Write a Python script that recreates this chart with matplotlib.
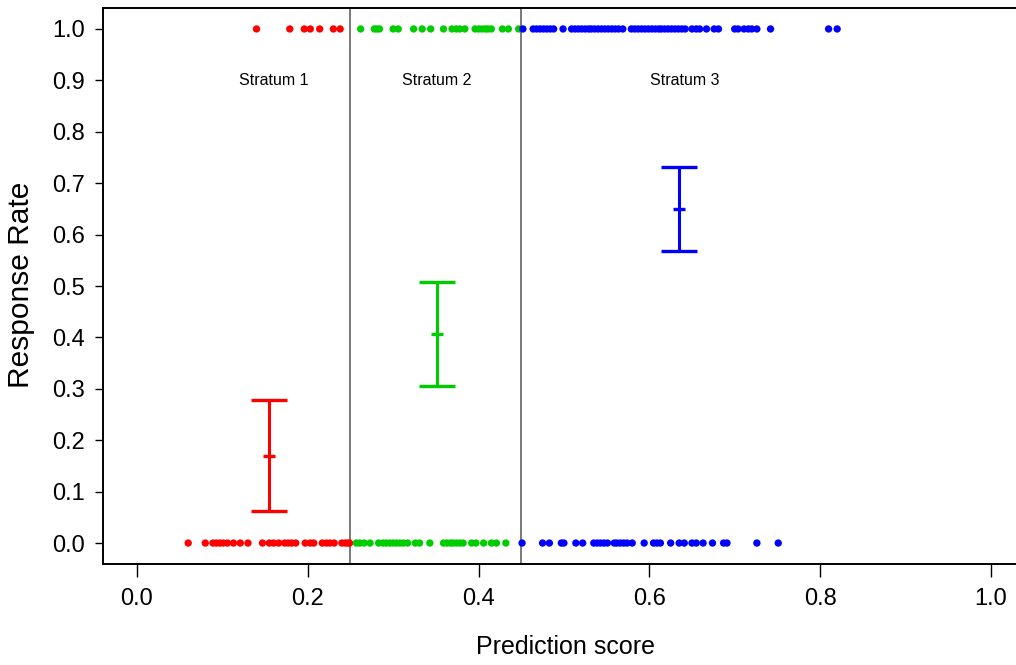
import matplotlib
matplotlib.use("Agg")
import matplotlib.pyplot as plt
import numpy as np

# ---- data ----
red_top = [0.140, 0.179, 0.196, 0.203, 0.214, 0.230, 0.238]
green_top = [0.262, 0.278, 0.281, 0.284, 0.300, 0.306, 0.324, 0.334, 0.344, 0.359,
             0.369, 0.374, 0.378, 0.384, 0.396, 0.400, 0.404, 0.408, 0.411, 0.415,
             0.428, 0.435, 0.447]
blue_top = [0.452, 0.464, 0.468, 0.472, 0.476, 0.480, 0.484, 0.488, 0.499, 0.509,
            0.513, 0.517, 0.521, 0.525, 0.529, 0.532, 0.536, 0.540, 0.544, 0.548,
            0.552, 0.556, 0.560, 0.564, 0.569, 0.579, 0.583, 0.587, 0.591, 0.595,
            0.599, 0.603, 0.607, 0.611, 0.614, 0.618, 0.622, 0.626, 0.630, 0.634,
            0.638, 0.642, 0.650, 0.655, 0.659, 0.667, 0.676, 0.681, 0.700, 0.704,
            0.711, 0.716, 0.720, 0.726, 0.742, 0.810, 0.820]
red_bottom = [0.060, 0.080, 0.089, 0.093, 0.097, 0.101, 0.106, 0.113, 0.121, 0.130,
              0.147, 0.155, 0.160, 0.166, 0.173, 0.177, 0.181, 0.186, 0.197, 0.203,
              0.207, 0.217, 0.222, 0.226, 0.231, 0.240, 0.244, 0.247, 0.249]
green_bottom = [0.257, 0.261, 0.266, 0.273, 0.283, 0.288, 0.292, 0.296, 0.300, 0.304,
                0.308, 0.312, 0.317, 0.326, 0.331, 0.343, 0.359, 0.363, 0.367, 0.370,
                0.374, 0.378, 0.382, 0.392, 0.397, 0.406, 0.415, 0.421, 0.432]
blue_bottom = [0.451, 0.475, 0.483, 0.497, 0.500, 0.514, 0.522, 0.535, 0.539, 0.543,
               0.547, 0.551, 0.559, 0.562, 0.566, 0.570, 0.574, 0.580, 0.594, 0.605,
               0.609, 0.613, 0.625, 0.635, 0.641, 0.650, 0.655, 0.663, 0.674, 0.687,
               0.691, 0.726, 0.751]

strata_labels = ["Stratum 1", "Stratum 2", "Stratum 3"]
strata_x = [0.155, 0.351, 0.635]
strata_mean = [0.170, 0.407, 0.649]
strata_lo = [0.062, 0.305, 0.568]
strata_hi = [0.278, 0.508, 0.731]
strata_label_x = [0.160, 0.351, 0.642]
cutpoints = [0.25, 0.45]
colors = ["#FF0000", "#00CD00", "#0000FF"]

xticks = [0.0, 0.2, 0.4, 0.6, 0.8, 1.0]
yticks = [0.0, 0.1, 0.2, 0.3, 0.4, 0.5, 0.6, 0.7, 0.8, 0.9, 1.0]

narrow = ["Liberation Sans Narrow", "Liberation Sans", "DejaVu Sans"]

W, H = 1016, 665
fig = plt.figure(figsize=(W / 100, H / 100), dpi=100)
left, right, top, bottom = 102.8, 1025.0, 8.4, 563.6
ax = fig.add_axes([left / W, (H - bottom) / H, (right - left) / W, (bottom - top) / H])
ax.set_xlim(-0.04, 1.04)
ax.set_ylim(-0.04, 1.04)

for xv in cutpoints:
    ax.axvline(xv, color="#555555", lw=1.1, zorder=1)

ms = 28
for xs, yv, c in [(red_top, 1.0, colors[0]), (green_top, 1.0, colors[1]), (blue_top, 1.0, colors[2]),
                  (red_bottom, 0.0, colors[0]), (green_bottom, 0.0, colors[1]), (blue_bottom, 0.0, colors[2])]:
    ax.scatter(xs, [yv] * len(xs), s=ms, color=c, edgecolors="none", zorder=3, clip_on=False)

for i in range(3):
    x, m, lo, hi, c = strata_x[i], strata_mean[i], strata_lo[i], strata_hi[i], colors[i]
    ax.errorbar([x], [m], yerr=[[m - lo], [hi - m]], fmt="none", ecolor=c, elinewidth=2.2,
                capsize=13, capthick=2.4, zorder=4)
    ax.plot([x], [m], marker="_", markersize=8, mew=2.4, color=c, zorder=4)
    ax.text(strata_label_x[i], 0.9, strata_labels[i], ha="center", va="center",
            fontsize=11.5, family=narrow)

for sp in ax.spines.values():
    sp.set_linewidth(1.4)
    sp.set_color("black")

ax.set_xticks(xticks)
ax.set_xticklabels([f"{v:.1f}" for v in xticks], family=narrow, fontsize=17)
ax.set_yticks(yticks)
ax.set_yticklabels([f"{v:.1f}" for v in yticks], family=narrow, fontsize=17)
ax.tick_params(axis="x", length=9.5, width=1.0, pad=8)
ax.tick_params(axis="y", length=6, width=1.0, pad=7)

fig.text(565 / W, 1 - 647 / H, "Prediction score", ha="center", va="center", fontsize=18, family=narrow)
fig.text(21 / W, 1 - 285 / H, "Response Rate", ha="center", va="center", rotation=90,
         fontsize=21.5, family=["Liberation Sans", "DejaVu Sans"])

fig.savefig("out.png", dpi=100)
